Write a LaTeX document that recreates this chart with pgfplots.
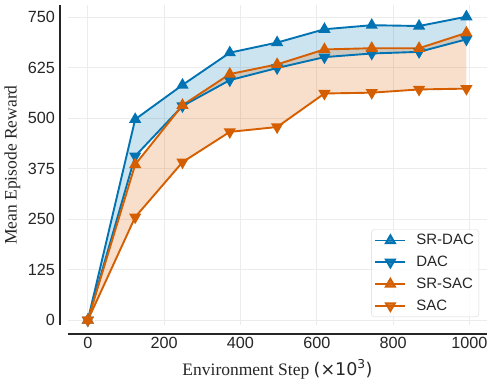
\documentclass[border=0pt]{standalone}
\usepackage{fontspec}
\setmainfont{Liberation Serif}
\setsansfont{Liberation Sans}
\newfontfamily\dejavu{DejaVu Sans}
\usepackage{pgfplots}
\pgfplotsset{compat=1.18}
\usepgfplotslibrary{fillbetween}

\definecolor{sbblue}{RGB}{1,115,178}
\definecolor{sborange}{RGB}{213,94,0}
\definecolor{txt}{RGB}{38,38,38}
\definecolor{gridc}{RGB}{236,236,236}

\begin{document}
\begin{tikzpicture}
\begin{axis}[
  name=ax, set layers,
  scale only axis, width=419pt, height=320pt,
  xmin=-52, xmax=1046, ymin=-12, ymax=780,
  axis line style={draw=none},
  clip=false,
  major tick length=0pt,
  xtick={0,200,...,1000}, ytick={0,125,...,750},
  grid=major, major grid style={color=gridc, line width=0.9pt},
  tick label style={font=\sffamily\fontsize{16.2}{19}\selectfont, text=txt},
  /pgf/number format/assume math mode=true,
  /pgf/number format/1000 sep={},
  xticklabel style={anchor=north, inner sep=0pt, yshift=-12pt},
  yticklabel style={anchor=east, inner sep=0pt, xshift=-13pt},
  every axis plot/.append style={line width=1.9pt, mark size=5.2pt},
  legend style={at={(0.981,0.025)}, anchor=south east,
    draw=black!15, rounded corners=3pt, fill=white, fill opacity=0.8, text opacity=1,
    font=\sffamily\fontsize{15}{17}\selectfont, text=txt,
    inner xsep=3pt, inner ysep=3pt, row sep=5.8pt, column sep=8pt},
  legend cell align=left,
  legend image code/.code={\draw[mark repeat=2,mark phase=2] plot coordinates {(0pt,0pt) (15pt,0pt) (30pt,0pt)};},
]
\addplot[name path=srdac, color=sbblue, mark=triangle*, mark options={rotate=0}] coordinates {
(0,0) (124,497) (248,582) (372,662) (496,687) (620,720) (744,730) (868,728) (992,751)};
\addlegendentry{SR-DAC}
\addplot[name path=dac, color=sbblue, mark=triangle*, mark options={rotate=180}] coordinates {
(0,0) (124,406) (248,530) (372,594) (496,624) (620,651) (744,660) (868,664) (992,695)};
\addlegendentry{DAC}
\addplot[name path=srsac, color=sborange, mark=triangle*, mark options={rotate=0}] coordinates {
(0,0) (124,385) (248,532) (372,609) (496,633) (620,670) (744,673) (868,673) (992,711)};
\addlegendentry{SR-SAC}
\addplot[name path=sac, color=sborange, mark=triangle*, mark options={rotate=180}] coordinates {
(0,0) (124,255) (248,391) (372,466) (496,478) (620,561) (744,563) (868,571) (992,573)};
\addlegendentry{SAC}
\addplot[fill=sbblue, fill opacity=0.2, draw=none, forget plot] fill between[of=srdac and dac];
\addplot[fill=sborange, fill opacity=0.2, draw=none, forget plot] fill between[of=srsac and sac];
\end{axis}
% offset spines
\draw[txt, line width=2.6pt] ([xshift=-8pt]ax.south west) -- ([xshift=-8pt]ax.north west);
\draw[txt, line width=2.6pt] ([yshift=-9pt]ax.south west) -- ([yshift=-9pt]ax.south east);
% axis labels
\node[rotate=90, text=txt, font=\fontsize{17.5}{20}\selectfont] at ([xshift=-55.5pt]ax.west) {Mean Episode Reward};
\node[anchor=base, text=txt, font=\fontsize{17.5}{20}\selectfont] at ([yshift=-50pt]ax.south) {Environment Step {\dejavu(×10\textsuperscript{3})}};
% page extent
\path ([xshift=-68pt,yshift=-63pt]ax.south west) rectangle ([xshift=8pt,yshift=5pt]ax.north east);
\end{tikzpicture}
\end{document}
